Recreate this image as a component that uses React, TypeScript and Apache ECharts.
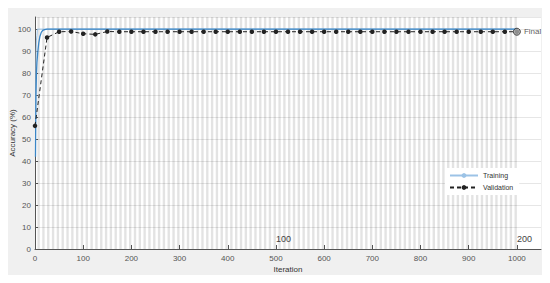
import React, { useEffect, useRef } from "react";
import * as echarts from "echarts";

const valIter = [0, 25, 50, 75, 100, 125, 150, 175, 200, 225, 250, 275, 300, 325, 350, 375, 400, 425, 450, 475, 500, 525, 550, 575, 600, 625, 650, 675, 700, 725, 750, 775, 800, 825, 850, 875, 900, 925, 950, 975, 1000];
const valAcc = [56, 96.2, 98.8, 98.9, 97.9, 97.6, 98.9, 98.8, 98.8, 98.8, 98.8, 98.8, 98.8, 98.8, 98.8, 98.8, 98.8, 98.8, 98.8, 98.8, 98.8, 98.8, 98.8, 98.8, 98.8, 98.8, 98.8, 98.8, 98.8, 98.8, 98.8, 98.8, 98.8, 98.8, 98.8, 98.8, 98.8, 98.8, 98.8, 98.8, 98.8];

const trainRawIter = [1, 2, 3, 4, 5, 1000];
const trainRawAcc = [50, 85, 95, 97, 100, 100];

const trainSmoothIter = [1, 2, 3, 4, 6, 8, 10, 13, 16, 20, 25, 1000];
const trainSmoothAcc = [42, 70, 80, 85, 90, 94, 96.5, 98.5, 99.4, 99.8, 100, 100];

const xTicks = [0, 100, 200, 300, 400, 500, 600, 700, 800, 900, 1000];
const yTicks = [0, 10, 20, 30, 40, 50, 60, 70, 80, 90, 100];
const epochLabels = [100, 200];
const itersPerEpoch = 5;
const numEpochs = 200;
const finalIter = 1000;
const finalVal = 98.8;

const FONT = 'Arial, "Liberation Sans", sans-serif';

export default function App() {
  const ref = useRef<HTMLDivElement>(null);
  useEffect(() => {
    if (!ref.current) return;
    const chart = echarts.init(ref.current, undefined, { renderer: "svg" });
    const stripes: number[][] = [];
    for (let e = 1; e < numEpochs; e += 2) stripes.push([e * itersPerEpoch, (e + 1) * itersPerEpoch]);
    const zip = (a: number[], b: number[]) => a.map((v, i) => [v, b[i]]);
    const option: any = {
      animation: false,
      backgroundColor: "#f0f0f0",
      textStyle: { fontFamily: FONT },
      grid: {
        left: 27, right: 1, top: 9, bottom: 26,
        backgroundColor: "#fff", show: true, borderWidth: 0,
        containLabel: false, outerBoundsMode: "none",
      },
      legend: {
        data: ["Training", "Validation"],
        orient: "vertical",
        left: 437,
        top: 160,
        backgroundColor: "#fff",
        padding: [4, 6, 4, 4],
        itemWidth: 28,
        itemHeight: 6,
        itemGap: 5,
        textStyle: { fontSize: 7, color: "#333", fontFamily: FONT },
      },
      xAxis: [
        {
          type: "value",
          min: 0,
          max: 1050,
          interval: 100,
          name: "Iteration",
          nameLocation: "middle",
          nameGap: 16,
          nameMoveOverlap: false,
          nameTextStyle: { fontSize: 8, color: "#333" },
          axisLine: { lineStyle: { color: "#555", width: 1 } },
          axisTick: { inside: true, length: 4, lineStyle: { color: "#555" } },
          axisLabel: {
            fontSize: 8,
            color: "#555",
            margin: 5,
            formatter: (v: number) => (xTicks.includes(v) ? String(v) : ""),
            showMaxLabel: false,
          },
          splitLine: { show: false },
        },
        {
          type: "value",
          min: 0,
          max: 1050,
          interval: 500,
          position: "bottom",
          axisLine: { show: false },
          axisTick: { show: false },
          splitLine: { show: false },
          axisLabel: {
            inside: true,
            fontSize: 9,
            color: "#444",
            margin: 6,
            align: "left",
            showMaxLabel: false,
            formatter: (v: number) => {
              const ep = v / itersPerEpoch;
              return epochLabels.includes(ep) ? String(ep) : "";
            },
          },
        },
      ],
      yAxis: {
        type: "value",
        min: 0,
        max: 105.5,
        interval: 10,
        name: "Accuracy (%)",
        nameLocation: "middle",
        nameGap: 19,
        nameMoveOverlap: false,
        nameTextStyle: { fontSize: 8, color: "#333" },
        axisLine: { show: true, lineStyle: { color: "#555", width: 1 } },
        axisTick: { show: true, inside: true, length: 3, lineStyle: { color: "#555" } },
        axisLabel: {
          fontSize: 8,
          color: "#555",
          margin: 4,
          formatter: (v: number) => (yTicks.includes(v) ? String(v) : ""),
          showMaxLabel: false,
        },
        splitLine: { show: true, lineStyle: { color: "#e6e6e6", width: 1 } },
      },
      series: [
        {
          type: "custom",
          name: "epochs",
          silent: true,
          z: 1,
          data: stripes,
          renderItem: (params: any, api: any) => {
            const p0 = api.coord([api.value(0), 105.5]);
            const p1 = api.coord([api.value(1), 0]);
            return {
              type: "rect",
              shape: { x: p0[0], y: p0[1], width: p1[0] - p0[0], height: p1[1] - p0[1] },
              style: { fill: "rgba(0,0,0,0.11)" },
            };
          },
        },
        {
          type: "line",
          name: "Training",
          data: zip(trainRawIter, trainRawAcc),
          symbol: "circle",
          symbolSize: 5,
          showSymbol: false,
          itemStyle: { color: "#9cc3e6" },
          lineStyle: { color: "#9cc3e6", width: 1 },
          z: 3,
        },
        {
          type: "line",
          name: "Training smoothed",
          data: zip(trainSmoothIter, trainSmoothAcc),
          symbol: "none",
          itemStyle: { color: "#3b86c6" },
          lineStyle: { color: "#3b86c6", width: 1.3 },
          z: 4,
        },
        {
          type: "line",
          name: "Validation",
          data: zip(valIter, valAcc),
          symbol: "circle",
          symbolSize: 4.5,
          itemStyle: { color: "#222" },
          lineStyle: { color: "#222", width: 1, type: [4, 3] },
          z: 5,
        },
        {
          type: "scatter",
          name: "Final",
          data: [[finalIter, finalVal]],
          symbol: "circle",
          symbolSize: 7,
          itemStyle: { color: "#aaa", borderColor: "#222", borderWidth: 1 },
          label: { show: true, position: "right", distance: 3, formatter: "Final", fontSize: 8, color: "#333" },
          z: 6,
        },
      ],
    };
    chart.setOption(option);
    return () => chart.dispose();
  }, []);
  return <div ref={ref} style={{ width: 534, height: 267 }} />;
}
